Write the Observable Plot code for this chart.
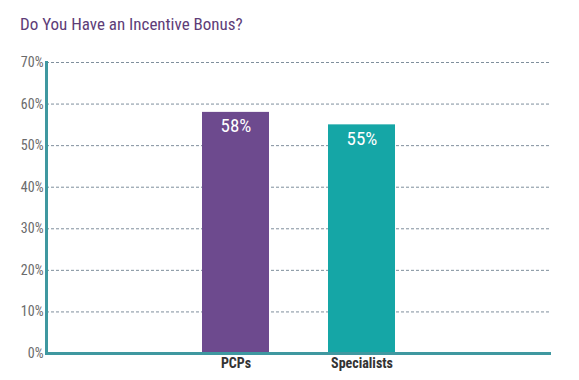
<!DOCTYPE html>
<html><head><meta charset="utf-8">
<script src="https://cdn.jsdelivr.net/npm/d3@7"></script>
<script src="https://cdn.jsdelivr.net/npm/@observablehq/plot@0.6"></script>
<style>
body{margin:0;background:#fff;font-family:"Roboto Condensed","Roboto",sans-serif;font-stretch:condensed;}
#title{height:45px;box-sizing:border-box;padding:14px 0 0 20px;font-size:17px;color:#5e3d78;line-height:20px;}
</style></head>
<body>
<div id="title">Do You Have an Incentive Bonus?</div>
<div id="chart"></div>
<script>
const categories = ["", "PCPs", "Specialists", " "];
const groups = ["PCPs", "Specialists"];
const values = [58, 55];
const colors = ["#6d4a8e", "#15a6a6"];
const yTicks = [0, 10, 20, 30, 40, 50, 60, 70];

const data = groups.map((g, i) => ({group: g, value: values[i], color: colors[i]}));

const chart = Plot.plot({
  width: 579,
  height: 335,
  marginTop: 17,
  marginBottom: 27,
  marginLeft: 46,
  marginRight: 28,
  style: {fontFamily: "'Roboto Condensed', Roboto, sans-serif", fontStretch: "condensed", background: "#fff"},
  x: {domain: categories, paddingInner: 0.47, paddingOuter: 0.235, axis: null, label: null},
  y: {domain: [0, 70], axis: null, label: null},
  marks: [
    Plot.gridY(yTicks.slice(1), {stroke: "#7f8f9c", strokeOpacity: 1, strokeDasharray: "3,2", strokeWidth: 1}),
    Plot.barY(data, {x: "group", y: "value", fill: "color"}),
    Plot.text(data, {x: "group", y: "value", text: d => d.value + "%", fill: "#fff", dy: 14, fontSize: 19}),
    Plot.axisY(yTicks, {tickSize: 0, tickPadding: 3, tickFormat: d => d + "%", fill: "#6b6b6b", fontSize: 14, label: null}),
    Plot.axisX(groups, {tickSize: 0, tickPadding: 5, fill: "#333", fontSize: 14, fontWeight: "bold", label: null}),
    Plot.frame({anchor: "left", stroke: "#3f98a0", strokeWidth: 3}),
    Plot.ruleY([0], {stroke: "#3f98a0", strokeWidth: 3})
  ]
});
document.getElementById("chart").appendChild(chart);
</script>
</body></html>
